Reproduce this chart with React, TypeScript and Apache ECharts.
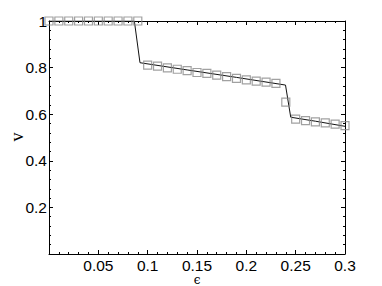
import React, { useEffect, useRef } from "react";
import * as echarts from "echarts";

const epsilon = [
  0, 0.01, 0.02, 0.03, 0.04, 0.05, 0.06, 0.07, 0.08, 0.09, 0.1, 0.11, 0.12, 0.13, 0.14, 0.15,
  0.16, 0.17, 0.18, 0.19, 0.2, 0.21, 0.22, 0.23, 0.24, 0.25, 0.26, 0.27, 0.28, 0.29, 0.3,
];
const vSim = [
  1, 1, 1, 1, 1, 1, 1, 1, 1, 1, 0.811, 0.806, 0.799, 0.793, 0.787, 0.779, 0.775, 0.768, 0.761,
  0.754, 0.747, 0.742, 0.738, 0.732, 0.652, 0.579, 0.572, 0.567, 0.563, 0.557, 0.551,
];
const lineEps = [0, 0.0865, 0.0922, 0.14, 0.19, 0.2397, 0.245, 0.27, 0.3];
const lineV = [1, 1, 0.821, 0.79, 0.758, 0.725, 0.587, 0.57, 0.548];
const xName = "ϵ";
const yName = "v";

const fmt = (v: number) => (Math.abs(v) < 1e-9 ? "" : String(+v.toFixed(2)));

export default function App() {
  const ref = useRef<HTMLDivElement>(null);
  useEffect(() => {
    if (!ref.current) return;
    const chart = echarts.init(ref.current, undefined, { renderer: "svg" });
    const tickFont = {
      fontFamily: "Liberation Sans, Arial, sans-serif",
      fontSize: 15.5,
      lineHeight: 15,
      color: "#000",
    };
    const axisCommon = {
      type: "value" as const,
      axisLine: { show: true, onZero: false, lineStyle: { color: "#000", width: 1 } },
      axisTick: { show: true, inside: true, length: 4, lineStyle: { color: "#000" } },
      minorTick: { show: true, splitNumber: 5, length: 2, lineStyle: { color: "#000" } },
      splitLine: { show: false },
      minorSplitLine: { show: false },
    };
    chart.setOption({
      animation: false,
      backgroundColor: "#fff",
      grid: { left: 49, right: 37, top: 21, bottom: 32, containLabel: false, outerBoundsMode: "none" },
      graphic: [
        {
          type: "text",
          x: 197,
          y: 280,
          style: {
            text: xName,
            font: '12px "DejaVu Serif", serif',
            fill: "#000",
            align: "center",
            verticalAlign: "middle",
          },
        },
        {
          type: "text",
          x: 17,
          y: 137,
          rotation: Math.PI / 2,
          style: {
            text: yName,
            font: '18px "Liberation Serif", serif',
            fill: "#000",
            align: "center",
            verticalAlign: "middle",
          },
        },
      ],
      xAxis: [
        {
          ...axisCommon,
          min: 0,
          max: 0.3,
          interval: 0.05,
          position: "bottom",
          axisLabel: { ...tickFont, margin: 4, formatter: fmt },
        },
        {
          ...axisCommon,
          min: 0,
          max: 0.3,
          interval: 0.05,
          position: "top",
          axisLabel: { show: false },
        },
      ],
      yAxis: [
        {
          ...axisCommon,
          min: 0,
          max: 1,
          interval: 0.2,
          position: "left",
          axisLabel: { ...tickFont, margin: 2, formatter: fmt },
        },
        {
          ...axisCommon,
          min: 0,
          max: 1,
          interval: 0.2,
          position: "right",
          axisLabel: { show: false },
        },
      ],
      series: [
        {
          type: "line",
          data: lineEps.map((x, i) => [x, lineV[i]]),
          showSymbol: false,
          symbol: "none",
          lineStyle: { color: "#111", width: 1 },
          z: 2,
        },
        {
          type: "scatter",
          data: epsilon.map((x, i) => [x, vSim[i]]),
          symbol: "rect",
          symbolSize: 8,
          itemStyle: { color: "rgba(0,0,0,0)", borderColor: "#8a8a8a", borderWidth: 1.2 },
          z: 3,
        },
      ],
    });
    return () => chart.dispose();
  }, []);
  return (
    <div
      ref={ref}
      style={{ position: "fixed", left: 0, top: 0, width: 382, height: 286, background: "#fff" }}
    />
  );
}
